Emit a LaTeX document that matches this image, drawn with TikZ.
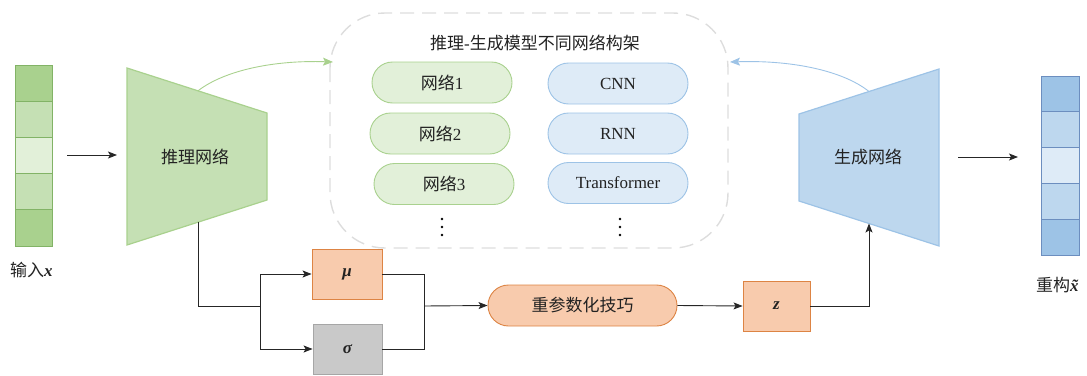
\documentclass[tikz,border=0pt]{standalone}
\usepackage{fontspec}
\setmainfont{Liberation Serif}
\newfontfamily\cjk{Noto Sans CJK SC}
\usetikzlibrary{arrows.meta}

\definecolor{gDark}{HTML}{A9D18E}
\definecolor{gMid}{HTML}{C5E0B4}
\definecolor{gLight}{HTML}{E2F0D9}
\definecolor{gLine}{HTML}{82B366}
\definecolor{gEdge}{HTML}{A9D18E}
\definecolor{bDark}{HTML}{9DC3E6}
\definecolor{bMid}{HTML}{BDD7EE}
\definecolor{bLight}{HTML}{DEEBF7}
\definecolor{bLine}{HTML}{6C8EBF}
\definecolor{bEdge}{HTML}{9DC3E6}
\definecolor{oFill}{HTML}{F8CBAD}
\definecolor{oLine}{HTML}{DD8444}
\definecolor{grFill}{HTML}{C9C9C9}
\definecolor{grLine}{HTML}{A6A6A6}
\definecolor{frame}{HTML}{DDDDDD}
\definecolor{txt}{HTML}{222222}

% bold italic symbols set in the text font
\newcommand{\bsym}[1]{{\bfseries\itshape #1}}

\tikzset{
  lbl/.style={font=\fontsize{17}{20}\selectfont, text=txt, inner sep=0pt},
  gpill/.style={lbl, draw=gEdge, fill=gLight, line width=0.9pt,
    minimum width=140pt, minimum height=41pt, rounded corners=20.5pt},
  bpill/.style={lbl, draw=bEdge, fill=bLight, line width=0.9pt,
    minimum width=140pt, minimum height=41pt, rounded corners=20.5pt},
  obox/.style={lbl, draw=oLine, fill=oFill, line width=0.9pt},
  gbox/.style={lbl, draw=grLine, fill=grFill, line width=0.9pt},
  link/.style={draw=black!85, line width=0.9pt},
  arr/.style={link, -{Stealth[length=9pt,width=7pt,inset=2pt]}},
  cell/.style={line width=0.9pt},
}

\begin{document}
\begin{tikzpicture}[x=1pt, y=-1pt]
\useasboundingbox (0,0) rectangle (1087,375);

% input vector
\foreach \i/\c in {0/gDark,1/gMid,2/gLight,3/gMid,4/gDark}
  \draw[cell, draw=gLine, fill=\c] (15,65+36.2*\i) rectangle (52,65+36.2*\i+36.2);
\node[lbl, anchor=west] (inlbl) at (10,270) {{\cjk 输入}\bsym{x}};

% encoder
\draw[fill=gMid, draw=gEdge, line width=1.2pt]
  (127,68) -- (267,113) -- (267,200) -- (127,245) -- cycle;
\node[lbl] (enc) at (195,157) {\cjk 推理网络};
\coordinate (encTop) at (198,90.8);
\coordinate (encBot) at (198,222.2);

% decoder
\draw[fill=bMid, draw=bEdge, line width=1.2pt]
  (799,114) -- (939,69) -- (939,246) -- (799,201) -- cycle;
\node[lbl] (dec) at (868,157) {\cjk 生成网络};
\coordinate (decTop) at (869,91.5);
\coordinate (decBot) at (869,223.5);

% output vector
\foreach \i/\c in {0/bDark,1/bMid,2/bLight,3/bMid,4/bDark}
  \draw[cell, draw=bLine, fill=\c] (1041,76+35.8*\i) rectangle (1079,76+35.8*\i+35.8);
\node[lbl, anchor=west] (outlbl) at (1036,285) {{\cjk 重构}\bsym{x̃}};

% architecture group
\draw[draw=frame, line width=1.4pt, dash pattern=on 14pt off 8pt, rounded corners=55pt]
  (330,13) rectangle (728,248);
\node[lbl] (title) at (535,43) {{\cjk 推理}-{\cjk 生成模型不同网络构架}};
\node[gpill] (n1) at (442,82.5) {{\cjk 网络}1};
\node[gpill] (n2) at (440,133.5) {{\cjk 网络}2};
\node[gpill] (n3) at (444,184) {{\cjk 网络}3};
\node[bpill] (cnn) at (618,83.5) {CNN};
\node[bpill] (rnn) at (618,133.5) {RNN};
\node[bpill] (tf) at (618,183) {Transformer};
\foreach \x in {442,620}
  \foreach \y in {219,227,235}
    \fill[black] (\x,\y) circle (1.4pt);

\coordinate (gIn) at (333,62);
\coordinate (bIn) at (730,62);
\draw[draw=gDark, line width=0.9pt, -{Stealth[length=10pt,width=8pt,inset=2pt]}]
  (encTop) .. controls (225,70) and (275,60) .. (gIn);
\draw[draw=bDark, line width=0.9pt, -{Stealth[length=10pt,width=8pt,inset=2pt]}]
  (decTop) .. controls (842,70) and (790,60) .. (bIn);

% latent path
\node[obox, minimum width=70pt, minimum height=50pt] (mu) at (347,274) {\bsym{μ}};
\node[gbox, minimum width=69pt, minimum height=50pt] (sigma) at (347.5,349) {\bsym{σ}};
\node[obox, minimum width=189pt, minimum height=41pt, rounded corners=20.5pt] (rep) at (582.5,305.5) {\cjk 重参数化技巧};
\node[obox, minimum width=67pt, minimum height=50pt] (z) at (776.5,306) {\bsym{z}};

\coordinate (split) at (260,306);
\coordinate (join) at (424,306);
\draw[link] (encBot) |- (split);
\draw[arr] (split) |- (mu.west);
\draw[arr] (split) |- (sigma.west);
\draw[link] (mu.east) -| (join);
\draw[link] (sigma.east) -| (join);
\draw[arr] (join) -- (rep.west);
\draw[arr] (rep.east) -- (z.west);
\draw[arr] (z.east) -| (decBot);

% horizontal data arrows
\coordinate (inA) at (67,155);
\coordinate (inB) at (117,155);
\coordinate (outA) at (958,157);
\coordinate (outB) at (1018,157);
\draw[arr] (inA) -- (inB);
\draw[arr] (outA) -- (outB);
\end{tikzpicture}
\end{document}
